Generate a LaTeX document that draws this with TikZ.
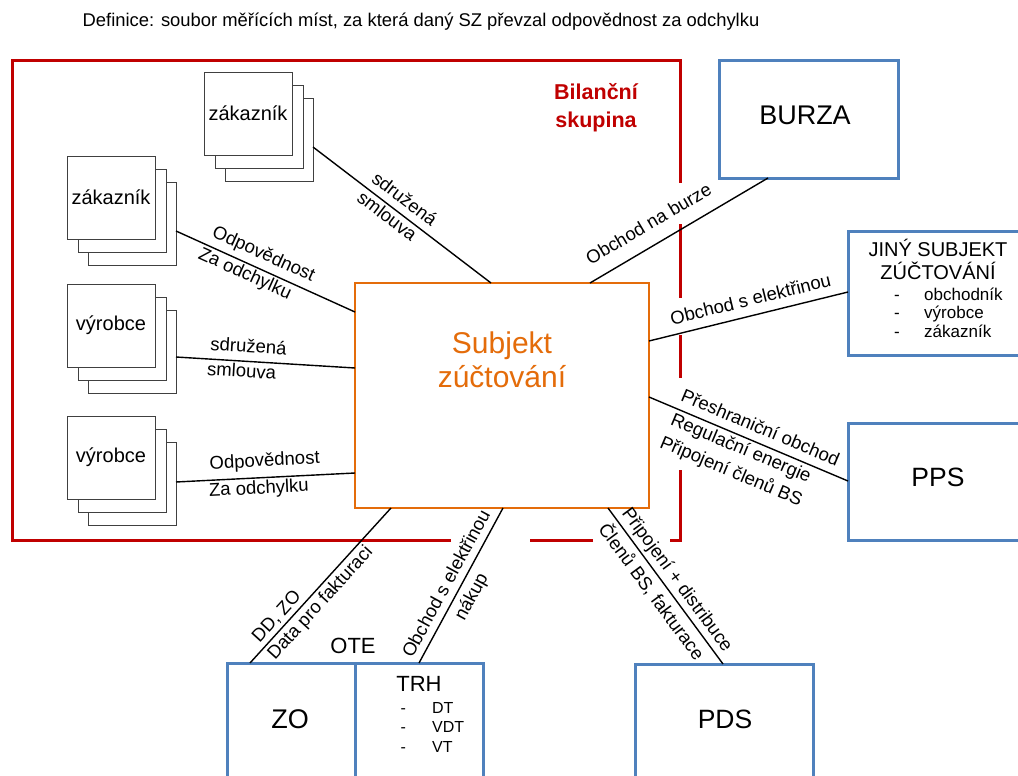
\documentclass[tikz,border=0pt]{standalone}
\usepackage{fontspec}
\setmainfont{Liberation Sans}
\usetikzlibrary{calc}

\definecolor{bsred}{RGB}{192,0,0}
\definecolor{szorange}{RGB}{228,108,10}
\definecolor{extblue}{RGB}{79,129,189}
\definecolor{pilegray}{RGB}{64,64,64}

\newcommand{\fsz}[2]{\fontsize{#1}{#2}\selectfont}

\tikzset{
  pile/.style={draw=pilegray, fill=white, line width=0.9pt, minimum width=88pt,
    minimum height=83pt, inner sep=0pt, outer sep=0pt, anchor=north west},
  extbox/.style={draw=extblue, line width=3pt, inner sep=0pt, outer sep=0pt,
    anchor=north west},
  conn/.style={draw=black, line width=1.4pt},
  lbl/.style={font=\fsz{18.5}{22}, inner sep=0pt, sloped, align=center},
  txt/.style={inner sep=0pt, align=center},
}

% a stack of three sheets, front sheet at (#2,#3)
\newcommand{\pilebox}[4]{%
  \node[pile] (#1c) at (#2+21,#3+26) {};
  \node[pile] (#1b) at (#2+11,#3+13) {};
  \node[pile, font=\fsz{20}{24}] (#1) at (#2,#3) {#4};
}

\begin{document}
\begin{tikzpicture}[x=1pt,y=-1pt]
\useasboundingbox (0,0) rectangle (1018,776);
\clip (0,0) rectangle (1018,776);
\fill[white] (0,0) rectangle (1018,776);

% heading
\node[txt, font=\fsz{18.4}{22}, anchor=base] (title) at (421,27)
  {Definice: soubor měřících míst, za která daný SZ převzal odpovědnost za odchylku};

% balance group frame, open where the connectors leave it
\draw[bsred, line width=3pt]
  (451,540) -- (12,540) -- (12,61) -- (680,61) -- (680,183)
  (680,224) -- (680,298)
  (680,335) -- (680,378)
  (680,470) -- (680,540) -- (670,540)
  (593,540) -- (530,540);
\node[txt, font=\bfseries\fsz{21.5}{28}, text=bsred] (bsname) at (596,108)
  {Bilanční\\skupina};

% members of the group
\pilebox{zt}{204}{72}{zákazník}
\pilebox{zk}{67}{156}{zákazník}
\pilebox{va}{67}{284}{výrobce}
\pilebox{vb}{67}{416}{výrobce}

% balance responsible party
\node[draw=szorange, line width=2.5pt, fill=white, minimum width=294pt,
  minimum height=225pt, inner sep=0pt, outer sep=0pt, anchor=north west]
  (sz) at (355,283) {};
\node[txt, font=\fsz{30}{34}, text=szorange] (sztext) at (502,360) {Subjekt\\zúčtování};

% outside parties
\node[extbox, minimum width=179pt, minimum height=117pt] (burza) at (719,61) {};
\node[txt, font=\fsz{27}{32}] (burzatext) at (805,115) {BURZA};

\node[extbox, minimum width=180pt, minimum height=124pt] (jiny) at (848,231) {};
\node[txt, font=\fsz{20}{23}] (jinyhead) at (938,259.7) {JINÝ SUBJEKT\\ZÚČTOVÁNÍ};
\node[txt, font=\fsz{17}{18.5}, align=left, anchor=west] (jinylist) at (894,312.6)
  {\makebox[30pt][l]{-}obchodník\\\makebox[30pt][l]{-}výrobce\\\makebox[30pt][l]{-}zákazník};

\node[extbox, minimum width=180pt, minimum height=117pt] (pps) at (848,423) {};
\node[txt, font=\fsz{26.5}{30}] (ppstext) at (938,477) {PPS};

\node[extbox, minimum width=178pt, minimum height=130pt] (pds) at (635,664) {};
\node[txt, font=\fsz{26.5}{30}] (pdstext) at (725,719) {PDS};

\node[extbox, minimum width=128pt, minimum height=130pt] (zo) at (227,663) {};
\node[extbox, minimum width=128pt, minimum height=130pt] (trh) at (355,663) {};
\node[txt, font=\fsz{22}{26}] (ote) at (353,646) {OTE};
\node[txt, font=\fsz{27}{30}] (zotext) at (290,719) {ZO};
\node[txt, font=\fsz{22}{26}] (trhtext) at (419,683.5) {TRH};
\node[txt, font=\fsz{16}{19.5}, align=left, anchor=west] (trhlist) at (400.5,727)
  {\makebox[31.5pt][l]{-}DT\\\makebox[31.5pt][l]{-}VDT\\\makebox[31.5pt][l]{-}VT};

% relations inside the group
\draw[conn] ([yshift=-7.5pt]ztc.east) -- ([xshift=136pt]sz.north west)
  node[lbl, pos=0.466, above=7pt] {sdružená}
  node[lbl, pos=0.45, below=2pt] {smlouva};
\draw[conn] ([yshift=-7.5pt]zkc.east) -- ([yshift=-29pt]sz.north west)
  node[lbl, pos=0.455, above=5pt] {Odpovědnost}
  node[lbl, pos=0.41, below=2pt] {Za odchylku};
\draw[conn] ([yshift=-5.5pt]vac.east) -- ([yshift=-85pt]sz.north west)
  node[lbl, pos=0.40, above=8pt] {sdružená}
  node[lbl, pos=0.37, below=2pt] {smlouva};
\draw[conn] ([yshift=1.5pt]vbc.east) -- ([yshift=-190pt]sz.north west)
  node[lbl, pos=0.50, above=6.5pt] {Odpovědnost}
  node[lbl, pos=0.46, below=2pt] {Za odchylku};

% relations to outside parties
\draw[conn] ([xshift=235pt]sz.north west) -- ([xshift=49pt]burza.south west)
  node[lbl, pos=0.39, above=14pt] {Obchod na burze};
\draw[conn] ([yshift=-58pt]sz.north east) -- ([yshift=-61pt]jiny.north west)
  node[lbl, pos=0.53, above=9pt] {Obchod s elektřinou};
\draw[conn] ([yshift=-114pt]sz.north east) -- ([yshift=-58pt]pps.north west)
  node[lbl, pos=0.53, above=8pt] {Přeshraniční obchod}
  node[lbl, pos=0.485, below=3pt, font=\fsz{18.5}{25}] {Regulační energie\\Připojení členů BS};
\draw[conn] ([xshift=253pt]sz.south west) -- ([xshift=88pt]pds.north west)
  node[lbl, pos=0.51, above=3pt] {Připojení + distribuce}
  node[lbl, pos=0.48, below=4pt] {Členů BS, fakturace};
\draw[conn] ([xshift=23pt]zo.north west) -- ([xshift=36pt]sz.south west)
  node[lbl, pos=0.25, above=3pt] {DD, ZO}
  node[lbl, pos=0.437, below=3pt] {Data pro fakturaci};
\draw[conn] ([xshift=64pt]trh.north west) -- ([xshift=148pt]sz.south west)
  node[lbl, pos=0.47, above=7pt] {Obchod s elektřinou}
  node[lbl, pos=0.47, below=6pt] {nákup};
\end{tikzpicture}
\end{document}
